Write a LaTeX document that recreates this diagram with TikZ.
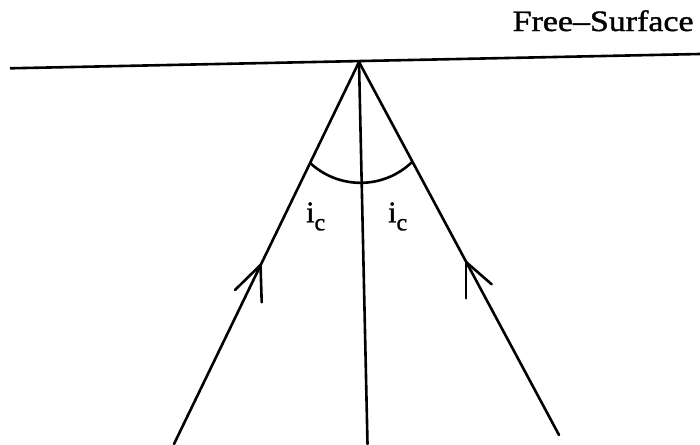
\documentclass[tikz,border=0pt]{standalone}
\usepackage{fontspec}
\setmainfont{Liberation Serif}
\newfontfamily\heavyserif[FakeBold=1.2]{Liberation Serif}
\begin{document}
\begin{tikzpicture}[x=1pt,y=-1pt,
  ray/.style={line width=2.6pt, line cap=round},
  lbl/.style={inner sep=0pt, anchor=base west, font=\heavyserif},
]
\useasboundingbox (0,0) rectangle (700,444);
% free surface
\coordinate (sl) at (10,68.3);
\coordinate (sr) at (700,54);
\draw[ray, line cap=butt] (sl) -- (sr);
% rays
\coordinate (apex) at (359,62);
\coordinate (lb) at (174,444);
\coordinate (mb) at (367.5,444);
\coordinate (rb) at (559,435);
\draw[ray] (apex) -- (lb);
\draw[ray] (apex) -- (mb);
\draw[ray] (apex) -- (rb);
% arrowheads
\coordinate (lt) at (260.5,265);
\coordinate (lt1) at (235,290);
\coordinate (lt2) at (261.7,302.3);
\draw[ray] (lt) -- (lt1);
\draw[ray] (lt) -- (lt2);
\coordinate (rt) at (466,262);
\coordinate (rt1) at (491.7,284.3);
\coordinate (rt2) at (466,298.3);
\draw[ray] (rt) -- (rt1);
\draw[ray] (rt) -- (rt2);
% angle arc
\coordinate (al) at (310.5,163.3);
\draw[ray] (al) arc[start angle=132.6, end angle=46.2, radius=74];
% labels
\node[lbl] (ic1) at (306,222.3) {\fontsize{30}{30}\selectfont i\raisebox{-8pt}{\fontsize{24}{24}\selectfont c}};
\node[lbl] (ic2) at (388,222.3) {\fontsize{30}{30}\selectfont i\raisebox{-8pt}{\fontsize{24}{24}\selectfont c}};
\node[lbl] (fs) at (512.5,31) {\scalebox{1.15}[1]{\fontsize{29.5}{30}\selectfont Free–Surface}};
\end{tikzpicture}
\end{document}
